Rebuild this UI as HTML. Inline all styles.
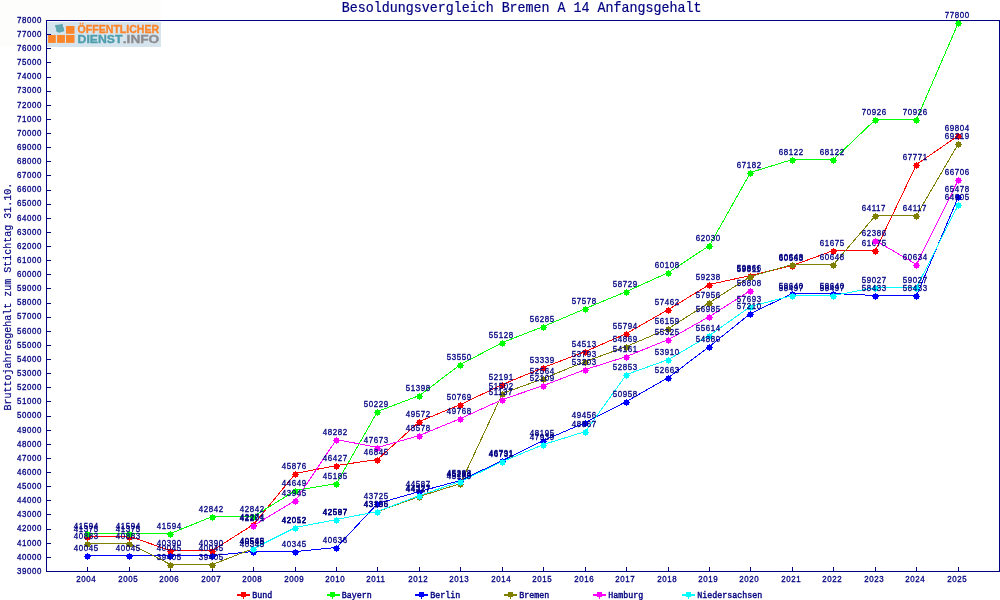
<!DOCTYPE html>
<html lang="de"><head><meta charset="utf-8"><title>Besoldungsvergleich Bremen A 14 Anfangsgehalt</title>
<style>html,body{margin:0;padding:0;background:#fff;overflow:hidden}svg{display:block}text{font-family:"Liberation Mono","DejaVu Sans Mono",monospace;fill:#000080}.sm text{stroke:#000080;stroke-width:.32px;letter-spacing:.68px}.lt text{stroke:#000080;stroke-width:.4px}.tt{stroke:#000080;stroke-width:.2px}.lg text,.sm text{font-family:"Liberation Sans","DejaVu Sans",sans-serif}</style></head><body>
<svg width="1000" height="600" viewBox="0 0 1000 600" style="will-change:transform">
<rect width="1000" height="600" fill="#ffffff"/>
<rect x="0" y="0" width="161" height="47" fill="#fdfdfb"/>
<g class="lg">
<rect x="47" y="22" width="114" height="25" fill="#d6e4ee"/>
<rect x="48.1" y="35" width="7.7" height="7.9" fill="#fd862a"/>
<rect x="57.1" y="35" width="7.8" height="7.9" fill="#fd862a"/>
<rect x="66" y="35" width="8.5" height="7.9" fill="#fd862a"/>
<rect x="66" y="26" width="8.5" height="7.8" fill="#fd862a"/>
<path d="M55.1,25.1 L60,24.4 L62.6,23.7 L63.1,26.5 L64,28.4 L64.2,31.2 L61.4,31.9 L59.6,32.7 L57,32.1 L56,30.5 L56.2,28.4 L55.3,27 Z" fill="#5fa8b2"/>
<text x="77.6" y="33.4" font-size="10.6" font-weight="bold" textLength="81.6" lengthAdjust="spacingAndGlyphs" style="fill:#fd862a;stroke:#fd862a;stroke-width:.35px">ÖFFENTLICHER</text>
<text x="77.6" y="43.3" font-size="10.6" font-weight="bold" textLength="44.8" lengthAdjust="spacingAndGlyphs" style="fill:#4f9fae;stroke:#4f9fae;stroke-width:.35px">DIENST</text>
<text x="122.8" y="43.3" font-size="10.6" font-weight="bold" textLength="36.4" lengthAdjust="spacingAndGlyphs" style="fill:#8e8e92;stroke:#8e8e92;stroke-width:.35px">.INFO</text>
</g>
<text class="tt" transform="translate(521.6,12.4) scale(0.926,1)" font-size="14.4" text-anchor="middle">Besoldungsvergleich Bremen A 14 Anfangsgehalt</text>
<text class="tt" transform="translate(10.7,296.7) rotate(-90) scale(0.926,1)" font-size="10.8" text-anchor="middle">Bruttojahresgehalt zum Stichtag 31.10.</text>
<g shape-rendering="crispEdges" stroke="#000080" stroke-width="1" fill="none">
<path d="M46.5,20 V572 M46,20.5 H1000 M999.5,20 V572 M46,571.5 H1000"/>
<path d="M47,571.5 H51 M47,557.5 H51 M47,543.5 H51 M47,529.5 H51 M47,514.5 H51 M47,500.5 H51 M47,486.5 H51 M47,472.5 H51 M47,458.5 H51 M47,444.5 H51 M47,430.5 H51 M47,416.5 H51 M47,401.5 H51 M47,387.5 H51 M47,373.5 H51 M47,359.5 H51 M47,345.5 H51 M47,331.5 H51 M47,317.5 H51 M47,303.5 H51 M47,288.5 H51 M47,274.5 H51 M47,260.5 H51 M47,246.5 H51 M47,232.5 H51 M47,218.5 H51 M47,204.5 H51 M47,190.5 H51 M47,175.5 H51 M47,161.5 H51 M47,147.5 H51 M47,133.5 H51 M47,119.5 H51 M47,105.5 H51 M47,91.5 H51 M47,77.5 H51 M47,62.5 H51 M47,48.5 H51 M47,34.5 H51 M47,20.5 H51 M87.5,567 V571 M129.5,567 V571 M170.5,567 V571 M212.5,567 V571 M253.5,567 V571 M295.5,567 V571 M336.5,567 V571 M377.5,567 V571 M419.5,567 V571 M460.5,567 V571 M502.5,567 V571 M543.5,567 V571 M585.5,567 V571 M626.5,567 V571 M668.5,567 V571 M709.5,567 V571 M750.5,567 V571 M792.5,567 V571 M833.5,567 V571 M875.5,567 V571 M916.5,567 V571 M958.5,567 V571"/>
</g>
<g class="sm" font-size="9.0">
<text transform="translate(17.00,573.80) scale(.88,1)">39000</text>
<text transform="translate(17.00,559.67) scale(.88,1)">40000</text>
<text transform="translate(17.00,545.54) scale(.88,1)">41000</text>
<text transform="translate(17.00,531.42) scale(.88,1)">42000</text>
<text transform="translate(17.00,517.29) scale(.88,1)">43000</text>
<text transform="translate(17.00,503.16) scale(.88,1)">44000</text>
<text transform="translate(17.00,489.03) scale(.88,1)">45000</text>
<text transform="translate(17.00,474.90) scale(.88,1)">46000</text>
<text transform="translate(17.00,460.77) scale(.88,1)">47000</text>
<text transform="translate(17.00,446.65) scale(.88,1)">48000</text>
<text transform="translate(17.00,432.52) scale(.88,1)">49000</text>
<text transform="translate(17.00,418.39) scale(.88,1)">50000</text>
<text transform="translate(17.00,404.26) scale(.88,1)">51000</text>
<text transform="translate(17.00,390.13) scale(.88,1)">52000</text>
<text transform="translate(17.00,376.01) scale(.88,1)">53000</text>
<text transform="translate(17.00,361.88) scale(.88,1)">54000</text>
<text transform="translate(17.00,347.75) scale(.88,1)">55000</text>
<text transform="translate(17.00,333.62) scale(.88,1)">56000</text>
<text transform="translate(17.00,319.49) scale(.88,1)">57000</text>
<text transform="translate(17.00,305.36) scale(.88,1)">58000</text>
<text transform="translate(17.00,291.24) scale(.88,1)">59000</text>
<text transform="translate(17.00,277.11) scale(.88,1)">60000</text>
<text transform="translate(17.00,262.98) scale(.88,1)">61000</text>
<text transform="translate(17.00,248.85) scale(.88,1)">62000</text>
<text transform="translate(17.00,234.72) scale(.88,1)">63000</text>
<text transform="translate(17.00,220.59) scale(.88,1)">64000</text>
<text transform="translate(17.00,206.47) scale(.88,1)">65000</text>
<text transform="translate(17.00,192.34) scale(.88,1)">66000</text>
<text transform="translate(17.00,178.21) scale(.88,1)">67000</text>
<text transform="translate(17.00,164.08) scale(.88,1)">68000</text>
<text transform="translate(17.00,149.95) scale(.88,1)">69000</text>
<text transform="translate(17.00,135.83) scale(.88,1)">70000</text>
<text transform="translate(17.00,121.70) scale(.88,1)">71000</text>
<text transform="translate(17.00,107.57) scale(.88,1)">72000</text>
<text transform="translate(17.00,93.44) scale(.88,1)">73000</text>
<text transform="translate(17.00,79.31) scale(.88,1)">74000</text>
<text transform="translate(17.00,65.18) scale(.88,1)">75000</text>
<text transform="translate(17.00,51.06) scale(.88,1)">76000</text>
<text transform="translate(17.00,36.93) scale(.88,1)">77000</text>
<text transform="translate(17.00,22.80) scale(.88,1)">78000</text>
<text transform="translate(76.20,581.90) scale(.88,1)">2004</text>
<text transform="translate(118.20,581.90) scale(.88,1)">2005</text>
<text transform="translate(159.20,581.90) scale(.88,1)">2006</text>
<text transform="translate(201.20,581.90) scale(.88,1)">2007</text>
<text transform="translate(242.20,581.90) scale(.88,1)">2008</text>
<text transform="translate(284.20,581.90) scale(.88,1)">2009</text>
<text transform="translate(325.20,581.90) scale(.88,1)">2010</text>
<text transform="translate(366.20,581.90) scale(.88,1)">2011</text>
<text transform="translate(408.20,581.90) scale(.88,1)">2012</text>
<text transform="translate(449.20,581.90) scale(.88,1)">2013</text>
<text transform="translate(491.20,581.90) scale(.88,1)">2014</text>
<text transform="translate(532.20,581.90) scale(.88,1)">2015</text>
<text transform="translate(574.20,581.90) scale(.88,1)">2016</text>
<text transform="translate(615.20,581.90) scale(.88,1)">2017</text>
<text transform="translate(657.20,581.90) scale(.88,1)">2018</text>
<text transform="translate(698.20,581.90) scale(.88,1)">2019</text>
<text transform="translate(739.20,581.90) scale(.88,1)">2020</text>
<text transform="translate(781.20,581.90) scale(.88,1)">2021</text>
<text transform="translate(822.20,581.90) scale(.88,1)">2022</text>
<text transform="translate(864.20,581.90) scale(.88,1)">2023</text>
<text transform="translate(905.20,581.90) scale(.88,1)">2024</text>
<text transform="translate(947.20,581.90) scale(.88,1)">2025</text>
</g>
<g>
<polyline points="87.5,536.5 129.5,536.5 170.5,550.5 212.5,550.5 253.5,524.5 295.5,473.5 336.5,465.5 377.5,459.5 419.5,421.5 460.5,404.5 502.5,384.5 543.5,367.5 585.5,351.5 626.5,333.5 668.5,309.5 709.5,284.5 750.5,275.5 792.5,265.5 833.5,250.5 875.5,250.5 916.5,164.5 958.5,135.5" fill="none" stroke="#ff0000" stroke-width="1" shape-rendering="crispEdges"/>
<path d="M85,535h5v5h-5z M84,537h7v1h-7z M87,534h1v7h-1z" fill="#ff0000" shape-rendering="crispEdges"/>
<path d="M127,535h5v5h-5z M126,537h7v1h-7z M129,534h1v7h-1z" fill="#ff0000" shape-rendering="crispEdges"/>
<path d="M168,549h5v5h-5z M167,551h7v1h-7z M170,548h1v7h-1z" fill="#ff0000" shape-rendering="crispEdges"/>
<path d="M210,549h5v5h-5z M209,551h7v1h-7z M212,548h1v7h-1z" fill="#ff0000" shape-rendering="crispEdges"/>
<path d="M251,523h5v5h-5z M250,525h7v1h-7z M253,522h1v7h-1z" fill="#ff0000" shape-rendering="crispEdges"/>
<path d="M293,472h5v5h-5z M292,474h7v1h-7z M295,471h1v7h-1z" fill="#ff0000" shape-rendering="crispEdges"/>
<path d="M334,464h5v5h-5z M333,466h7v1h-7z M336,463h1v7h-1z" fill="#ff0000" shape-rendering="crispEdges"/>
<path d="M375,458h5v5h-5z M374,460h7v1h-7z M377,457h1v7h-1z" fill="#ff0000" shape-rendering="crispEdges"/>
<path d="M417,420h5v5h-5z M416,422h7v1h-7z M419,419h1v7h-1z" fill="#ff0000" shape-rendering="crispEdges"/>
<path d="M458,403h5v5h-5z M457,405h7v1h-7z M460,402h1v7h-1z" fill="#ff0000" shape-rendering="crispEdges"/>
<path d="M500,383h5v5h-5z M499,385h7v1h-7z M502,382h1v7h-1z" fill="#ff0000" shape-rendering="crispEdges"/>
<path d="M541,366h5v5h-5z M540,368h7v1h-7z M543,365h1v7h-1z" fill="#ff0000" shape-rendering="crispEdges"/>
<path d="M583,350h5v5h-5z M582,352h7v1h-7z M585,349h1v7h-1z" fill="#ff0000" shape-rendering="crispEdges"/>
<path d="M624,332h5v5h-5z M623,334h7v1h-7z M626,331h1v7h-1z" fill="#ff0000" shape-rendering="crispEdges"/>
<path d="M666,308h5v5h-5z M665,310h7v1h-7z M668,307h1v7h-1z" fill="#ff0000" shape-rendering="crispEdges"/>
<path d="M707,283h5v5h-5z M706,285h7v1h-7z M709,282h1v7h-1z" fill="#ff0000" shape-rendering="crispEdges"/>
<path d="M748,274h5v5h-5z M747,276h7v1h-7z M750,273h1v7h-1z" fill="#ff0000" shape-rendering="crispEdges"/>
<path d="M790,264h5v5h-5z M789,266h7v1h-7z M792,263h1v7h-1z" fill="#ff0000" shape-rendering="crispEdges"/>
<path d="M831,249h5v5h-5z M830,251h7v1h-7z M833,248h1v7h-1z" fill="#ff0000" shape-rendering="crispEdges"/>
<path d="M873,249h5v5h-5z M872,251h7v1h-7z M875,248h1v7h-1z" fill="#ff0000" shape-rendering="crispEdges"/>
<path d="M914,163h5v5h-5z M913,165h7v1h-7z M916,162h1v7h-1z" fill="#ff0000" shape-rendering="crispEdges"/>
<path d="M956,134h5v5h-5z M955,136h7v1h-7z M958,133h1v7h-1z" fill="#ff0000" shape-rendering="crispEdges"/>
</g>
<g>
<polyline points="87.5,533.5 129.5,533.5 170.5,533.5 212.5,516.5 253.5,516.5 295.5,490.5 336.5,483.5 377.5,411.5 419.5,395.5 460.5,364.5 502.5,342.5 543.5,326.5 585.5,308.5 626.5,291.5 668.5,272.5 709.5,245.5 750.5,172.5 792.5,159.5 833.5,159.5 875.5,119.5 916.5,119.5 958.5,22.5" fill="none" stroke="#00ff00" stroke-width="1" shape-rendering="crispEdges"/>
<path d="M85,532h5v5h-5z M84,534h7v1h-7z M87,531h1v7h-1z" fill="#00ff00" shape-rendering="crispEdges"/>
<path d="M127,532h5v5h-5z M126,534h7v1h-7z M129,531h1v7h-1z" fill="#00ff00" shape-rendering="crispEdges"/>
<path d="M168,532h5v5h-5z M167,534h7v1h-7z M170,531h1v7h-1z" fill="#00ff00" shape-rendering="crispEdges"/>
<path d="M210,515h5v5h-5z M209,517h7v1h-7z M212,514h1v7h-1z" fill="#00ff00" shape-rendering="crispEdges"/>
<path d="M251,515h5v5h-5z M250,517h7v1h-7z M253,514h1v7h-1z" fill="#00ff00" shape-rendering="crispEdges"/>
<path d="M293,489h5v5h-5z M292,491h7v1h-7z M295,488h1v7h-1z" fill="#00ff00" shape-rendering="crispEdges"/>
<path d="M334,482h5v5h-5z M333,484h7v1h-7z M336,481h1v7h-1z" fill="#00ff00" shape-rendering="crispEdges"/>
<path d="M375,410h5v5h-5z M374,412h7v1h-7z M377,409h1v7h-1z" fill="#00ff00" shape-rendering="crispEdges"/>
<path d="M417,394h5v5h-5z M416,396h7v1h-7z M419,393h1v7h-1z" fill="#00ff00" shape-rendering="crispEdges"/>
<path d="M458,363h5v5h-5z M457,365h7v1h-7z M460,362h1v7h-1z" fill="#00ff00" shape-rendering="crispEdges"/>
<path d="M500,341h5v5h-5z M499,343h7v1h-7z M502,340h1v7h-1z" fill="#00ff00" shape-rendering="crispEdges"/>
<path d="M541,325h5v5h-5z M540,327h7v1h-7z M543,324h1v7h-1z" fill="#00ff00" shape-rendering="crispEdges"/>
<path d="M583,307h5v5h-5z M582,309h7v1h-7z M585,306h1v7h-1z" fill="#00ff00" shape-rendering="crispEdges"/>
<path d="M624,290h5v5h-5z M623,292h7v1h-7z M626,289h1v7h-1z" fill="#00ff00" shape-rendering="crispEdges"/>
<path d="M666,271h5v5h-5z M665,273h7v1h-7z M668,270h1v7h-1z" fill="#00ff00" shape-rendering="crispEdges"/>
<path d="M707,244h5v5h-5z M706,246h7v1h-7z M709,243h1v7h-1z" fill="#00ff00" shape-rendering="crispEdges"/>
<path d="M748,171h5v5h-5z M747,173h7v1h-7z M750,170h1v7h-1z" fill="#00ff00" shape-rendering="crispEdges"/>
<path d="M790,158h5v5h-5z M789,160h7v1h-7z M792,157h1v7h-1z" fill="#00ff00" shape-rendering="crispEdges"/>
<path d="M831,158h5v5h-5z M830,160h7v1h-7z M833,157h1v7h-1z" fill="#00ff00" shape-rendering="crispEdges"/>
<path d="M873,118h5v5h-5z M872,120h7v1h-7z M875,117h1v7h-1z" fill="#00ff00" shape-rendering="crispEdges"/>
<path d="M914,118h5v5h-5z M913,120h7v1h-7z M916,117h1v7h-1z" fill="#00ff00" shape-rendering="crispEdges"/>
<path d="M956,21h5v5h-5z M955,23h7v1h-7z M958,20h1v7h-1z" fill="#00ff00" shape-rendering="crispEdges"/>
</g>
<g>
<polyline points="87.5,555.5 129.5,555.5 170.5,555.5 212.5,555.5 253.5,551.5 295.5,551.5 336.5,547.5 377.5,503.5 419.5,491.5 460.5,480.5 502.5,460.5 543.5,440.5 585.5,422.5 626.5,401.5 668.5,377.5 709.5,346.5 750.5,313.5 792.5,293.5 833.5,293.5 875.5,295.5 916.5,295.5 958.5,196.5" fill="none" stroke="#0000ff" stroke-width="1" shape-rendering="crispEdges"/>
<path d="M85,554h5v5h-5z M84,556h7v1h-7z M87,553h1v7h-1z" fill="#0000ff" shape-rendering="crispEdges"/>
<path d="M127,554h5v5h-5z M126,556h7v1h-7z M129,553h1v7h-1z" fill="#0000ff" shape-rendering="crispEdges"/>
<path d="M168,554h5v5h-5z M167,556h7v1h-7z M170,553h1v7h-1z" fill="#0000ff" shape-rendering="crispEdges"/>
<path d="M210,554h5v5h-5z M209,556h7v1h-7z M212,553h1v7h-1z" fill="#0000ff" shape-rendering="crispEdges"/>
<path d="M251,550h5v5h-5z M250,552h7v1h-7z M253,549h1v7h-1z" fill="#0000ff" shape-rendering="crispEdges"/>
<path d="M293,550h5v5h-5z M292,552h7v1h-7z M295,549h1v7h-1z" fill="#0000ff" shape-rendering="crispEdges"/>
<path d="M334,546h5v5h-5z M333,548h7v1h-7z M336,545h1v7h-1z" fill="#0000ff" shape-rendering="crispEdges"/>
<path d="M375,502h5v5h-5z M374,504h7v1h-7z M377,501h1v7h-1z" fill="#0000ff" shape-rendering="crispEdges"/>
<path d="M417,490h5v5h-5z M416,492h7v1h-7z M419,489h1v7h-1z" fill="#0000ff" shape-rendering="crispEdges"/>
<path d="M458,479h5v5h-5z M457,481h7v1h-7z M460,478h1v7h-1z" fill="#0000ff" shape-rendering="crispEdges"/>
<path d="M500,459h5v5h-5z M499,461h7v1h-7z M502,458h1v7h-1z" fill="#0000ff" shape-rendering="crispEdges"/>
<path d="M541,439h5v5h-5z M540,441h7v1h-7z M543,438h1v7h-1z" fill="#0000ff" shape-rendering="crispEdges"/>
<path d="M583,421h5v5h-5z M582,423h7v1h-7z M585,420h1v7h-1z" fill="#0000ff" shape-rendering="crispEdges"/>
<path d="M624,400h5v5h-5z M623,402h7v1h-7z M626,399h1v7h-1z" fill="#0000ff" shape-rendering="crispEdges"/>
<path d="M666,376h5v5h-5z M665,378h7v1h-7z M668,375h1v7h-1z" fill="#0000ff" shape-rendering="crispEdges"/>
<path d="M707,345h5v5h-5z M706,347h7v1h-7z M709,344h1v7h-1z" fill="#0000ff" shape-rendering="crispEdges"/>
<path d="M748,312h5v5h-5z M747,314h7v1h-7z M750,311h1v7h-1z" fill="#0000ff" shape-rendering="crispEdges"/>
<path d="M790,292h5v5h-5z M789,294h7v1h-7z M792,291h1v7h-1z" fill="#0000ff" shape-rendering="crispEdges"/>
<path d="M831,292h5v5h-5z M830,294h7v1h-7z M833,291h1v7h-1z" fill="#0000ff" shape-rendering="crispEdges"/>
<path d="M873,294h5v5h-5z M872,296h7v1h-7z M875,293h1v7h-1z" fill="#0000ff" shape-rendering="crispEdges"/>
<path d="M914,294h5v5h-5z M913,296h7v1h-7z M916,293h1v7h-1z" fill="#0000ff" shape-rendering="crispEdges"/>
<path d="M956,195h5v5h-5z M955,197h7v1h-7z M958,194h1v7h-1z" fill="#0000ff" shape-rendering="crispEdges"/>
</g>
<g>
<polyline points="87.5,543.5 129.5,543.5 170.5,564.5 212.5,564.5 253.5,548.5 295.5,527.5 336.5,519.5 377.5,511.5 419.5,496.5 460.5,483.5 502.5,393.5 543.5,378.5 585.5,361.5 626.5,346.5 668.5,328.5 709.5,302.5 750.5,276.5 792.5,264.5 833.5,264.5 875.5,215.5 916.5,215.5 958.5,143.5" fill="none" stroke="#808000" stroke-width="1" shape-rendering="crispEdges"/>
<path d="M85,542h5v5h-5z M84,544h7v1h-7z M87,541h1v7h-1z" fill="#808000" shape-rendering="crispEdges"/>
<path d="M127,542h5v5h-5z M126,544h7v1h-7z M129,541h1v7h-1z" fill="#808000" shape-rendering="crispEdges"/>
<path d="M168,563h5v5h-5z M167,565h7v1h-7z M170,562h1v7h-1z" fill="#808000" shape-rendering="crispEdges"/>
<path d="M210,563h5v5h-5z M209,565h7v1h-7z M212,562h1v7h-1z" fill="#808000" shape-rendering="crispEdges"/>
<path d="M251,547h5v5h-5z M250,549h7v1h-7z M253,546h1v7h-1z" fill="#808000" shape-rendering="crispEdges"/>
<path d="M293,526h5v5h-5z M292,528h7v1h-7z M295,525h1v7h-1z" fill="#808000" shape-rendering="crispEdges"/>
<path d="M334,518h5v5h-5z M333,520h7v1h-7z M336,517h1v7h-1z" fill="#808000" shape-rendering="crispEdges"/>
<path d="M375,510h5v5h-5z M374,512h7v1h-7z M377,509h1v7h-1z" fill="#808000" shape-rendering="crispEdges"/>
<path d="M417,495h5v5h-5z M416,497h7v1h-7z M419,494h1v7h-1z" fill="#808000" shape-rendering="crispEdges"/>
<path d="M458,482h5v5h-5z M457,484h7v1h-7z M460,481h1v7h-1z" fill="#808000" shape-rendering="crispEdges"/>
<path d="M500,392h5v5h-5z M499,394h7v1h-7z M502,391h1v7h-1z" fill="#808000" shape-rendering="crispEdges"/>
<path d="M541,377h5v5h-5z M540,379h7v1h-7z M543,376h1v7h-1z" fill="#808000" shape-rendering="crispEdges"/>
<path d="M583,360h5v5h-5z M582,362h7v1h-7z M585,359h1v7h-1z" fill="#808000" shape-rendering="crispEdges"/>
<path d="M624,345h5v5h-5z M623,347h7v1h-7z M626,344h1v7h-1z" fill="#808000" shape-rendering="crispEdges"/>
<path d="M666,327h5v5h-5z M665,329h7v1h-7z M668,326h1v7h-1z" fill="#808000" shape-rendering="crispEdges"/>
<path d="M707,301h5v5h-5z M706,303h7v1h-7z M709,300h1v7h-1z" fill="#808000" shape-rendering="crispEdges"/>
<path d="M748,275h5v5h-5z M747,277h7v1h-7z M750,274h1v7h-1z" fill="#808000" shape-rendering="crispEdges"/>
<path d="M790,263h5v5h-5z M789,265h7v1h-7z M792,262h1v7h-1z" fill="#808000" shape-rendering="crispEdges"/>
<path d="M831,263h5v5h-5z M830,265h7v1h-7z M833,262h1v7h-1z" fill="#808000" shape-rendering="crispEdges"/>
<path d="M873,214h5v5h-5z M872,216h7v1h-7z M875,213h1v7h-1z" fill="#808000" shape-rendering="crispEdges"/>
<path d="M914,214h5v5h-5z M913,216h7v1h-7z M916,213h1v7h-1z" fill="#808000" shape-rendering="crispEdges"/>
<path d="M956,142h5v5h-5z M955,144h7v1h-7z M958,141h1v7h-1z" fill="#808000" shape-rendering="crispEdges"/>
</g>
<g>
<polyline points="253.5,525.5 295.5,500.5 336.5,439.5 377.5,447.5 419.5,435.5 460.5,418.5 502.5,399.5 543.5,385.5 585.5,369.5 626.5,356.5 668.5,339.5 709.5,316.5 750.5,290.5" fill="none" stroke="#ff00ff" stroke-width="1" shape-rendering="crispEdges"/>
<polyline points="875.5,240.5 916.5,264.5 958.5,179.5" fill="none" stroke="#ff00ff" stroke-width="1" shape-rendering="crispEdges"/>
<path d="M251,524h5v5h-5z M250,526h7v1h-7z M253,523h1v7h-1z" fill="#ff00ff" shape-rendering="crispEdges"/>
<path d="M293,499h5v5h-5z M292,501h7v1h-7z M295,498h1v7h-1z" fill="#ff00ff" shape-rendering="crispEdges"/>
<path d="M334,438h5v5h-5z M333,440h7v1h-7z M336,437h1v7h-1z" fill="#ff00ff" shape-rendering="crispEdges"/>
<path d="M375,446h5v5h-5z M374,448h7v1h-7z M377,445h1v7h-1z" fill="#ff00ff" shape-rendering="crispEdges"/>
<path d="M417,434h5v5h-5z M416,436h7v1h-7z M419,433h1v7h-1z" fill="#ff00ff" shape-rendering="crispEdges"/>
<path d="M458,417h5v5h-5z M457,419h7v1h-7z M460,416h1v7h-1z" fill="#ff00ff" shape-rendering="crispEdges"/>
<path d="M500,398h5v5h-5z M499,400h7v1h-7z M502,397h1v7h-1z" fill="#ff00ff" shape-rendering="crispEdges"/>
<path d="M541,384h5v5h-5z M540,386h7v1h-7z M543,383h1v7h-1z" fill="#ff00ff" shape-rendering="crispEdges"/>
<path d="M583,368h5v5h-5z M582,370h7v1h-7z M585,367h1v7h-1z" fill="#ff00ff" shape-rendering="crispEdges"/>
<path d="M624,355h5v5h-5z M623,357h7v1h-7z M626,354h1v7h-1z" fill="#ff00ff" shape-rendering="crispEdges"/>
<path d="M666,338h5v5h-5z M665,340h7v1h-7z M668,337h1v7h-1z" fill="#ff00ff" shape-rendering="crispEdges"/>
<path d="M707,315h5v5h-5z M706,317h7v1h-7z M709,314h1v7h-1z" fill="#ff00ff" shape-rendering="crispEdges"/>
<path d="M748,289h5v5h-5z M747,291h7v1h-7z M750,288h1v7h-1z" fill="#ff00ff" shape-rendering="crispEdges"/>
<path d="M873,239h5v5h-5z M872,241h7v1h-7z M875,238h1v7h-1z" fill="#ff00ff" shape-rendering="crispEdges"/>
<path d="M914,263h5v5h-5z M913,265h7v1h-7z M916,262h1v7h-1z" fill="#ff00ff" shape-rendering="crispEdges"/>
<path d="M956,178h5v5h-5z M955,180h7v1h-7z M958,177h1v7h-1z" fill="#ff00ff" shape-rendering="crispEdges"/>
</g>
<g>
<polyline points="253.5,548.5 295.5,527.5 336.5,519.5 377.5,511.5 419.5,495.5 460.5,481.5 502.5,461.5 543.5,444.5 585.5,431.5 626.5,374.5 668.5,359.5 709.5,335.5 750.5,306.5 792.5,295.5 833.5,295.5 875.5,287.5 916.5,287.5 958.5,204.5" fill="none" stroke="#00ffff" stroke-width="1" shape-rendering="crispEdges"/>
<path d="M251,547h5v5h-5z M250,549h7v1h-7z M253,546h1v7h-1z" fill="#00ffff" shape-rendering="crispEdges"/>
<path d="M293,526h5v5h-5z M292,528h7v1h-7z M295,525h1v7h-1z" fill="#00ffff" shape-rendering="crispEdges"/>
<path d="M334,518h5v5h-5z M333,520h7v1h-7z M336,517h1v7h-1z" fill="#00ffff" shape-rendering="crispEdges"/>
<path d="M375,510h5v5h-5z M374,512h7v1h-7z M377,509h1v7h-1z" fill="#00ffff" shape-rendering="crispEdges"/>
<path d="M417,494h5v5h-5z M416,496h7v1h-7z M419,493h1v7h-1z" fill="#00ffff" shape-rendering="crispEdges"/>
<path d="M458,480h5v5h-5z M457,482h7v1h-7z M460,479h1v7h-1z" fill="#00ffff" shape-rendering="crispEdges"/>
<path d="M500,460h5v5h-5z M499,462h7v1h-7z M502,459h1v7h-1z" fill="#00ffff" shape-rendering="crispEdges"/>
<path d="M541,443h5v5h-5z M540,445h7v1h-7z M543,442h1v7h-1z" fill="#00ffff" shape-rendering="crispEdges"/>
<path d="M583,430h5v5h-5z M582,432h7v1h-7z M585,429h1v7h-1z" fill="#00ffff" shape-rendering="crispEdges"/>
<path d="M624,373h5v5h-5z M623,375h7v1h-7z M626,372h1v7h-1z" fill="#00ffff" shape-rendering="crispEdges"/>
<path d="M666,358h5v5h-5z M665,360h7v1h-7z M668,357h1v7h-1z" fill="#00ffff" shape-rendering="crispEdges"/>
<path d="M707,334h5v5h-5z M706,336h7v1h-7z M709,333h1v7h-1z" fill="#00ffff" shape-rendering="crispEdges"/>
<path d="M748,305h5v5h-5z M747,307h7v1h-7z M750,304h1v7h-1z" fill="#00ffff" shape-rendering="crispEdges"/>
<path d="M790,294h5v5h-5z M789,296h7v1h-7z M792,293h1v7h-1z" fill="#00ffff" shape-rendering="crispEdges"/>
<path d="M831,294h5v5h-5z M830,296h7v1h-7z M833,293h1v7h-1z" fill="#00ffff" shape-rendering="crispEdges"/>
<path d="M873,286h5v5h-5z M872,288h7v1h-7z M875,285h1v7h-1z" fill="#00ffff" shape-rendering="crispEdges"/>
<path d="M914,286h5v5h-5z M913,288h7v1h-7z M916,285h1v7h-1z" fill="#00ffff" shape-rendering="crispEdges"/>
<path d="M956,203h5v5h-5z M955,205h7v1h-7z M958,202h1v7h-1z" fill="#00ffff" shape-rendering="crispEdges"/>
</g>
<g class="sm" font-size="9.0">
<text transform="translate(73.70,531.80) scale(.88,1)">41375</text>
<text transform="translate(115.70,531.80) scale(.88,1)">41375</text>
<text transform="translate(156.70,545.80) scale(.88,1)">40390</text>
<text transform="translate(198.70,545.80) scale(.88,1)">40390</text>
<text transform="translate(239.70,519.80) scale(.88,1)">42274</text>
<text transform="translate(281.70,468.80) scale(.88,1)">45876</text>
<text transform="translate(322.70,460.80) scale(.88,1)">46427</text>
<text transform="translate(363.70,454.80) scale(.88,1)">46845</text>
<text transform="translate(405.70,416.80) scale(.88,1)">49572</text>
<text transform="translate(446.70,399.80) scale(.88,1)">50769</text>
<text transform="translate(488.70,379.80) scale(.88,1)">52191</text>
<text transform="translate(529.70,362.80) scale(.88,1)">53339</text>
<text transform="translate(571.70,346.80) scale(.88,1)">54513</text>
<text transform="translate(612.70,328.80) scale(.88,1)">55794</text>
<text transform="translate(654.70,304.80) scale(.88,1)">57462</text>
<text transform="translate(695.70,279.80) scale(.88,1)">59238</text>
<text transform="translate(736.70,270.80) scale(.88,1)">59866</text>
<text transform="translate(778.70,260.80) scale(.88,1)">60563</text>
<text transform="translate(819.70,245.80) scale(.88,1)">61675</text>
<text transform="translate(861.70,245.80) scale(.88,1)">61675</text>
<text transform="translate(902.70,159.80) scale(.88,1)">67771</text>
<text transform="translate(944.70,130.80) scale(.88,1)">69804</text>
<text transform="translate(73.70,528.80) scale(.88,1)">41594</text>
<text transform="translate(115.70,528.80) scale(.88,1)">41594</text>
<text transform="translate(156.70,528.80) scale(.88,1)">41594</text>
<text transform="translate(198.70,511.80) scale(.88,1)">42842</text>
<text transform="translate(239.70,511.80) scale(.88,1)">42842</text>
<text transform="translate(281.70,485.80) scale(.88,1)">44649</text>
<text transform="translate(322.70,478.80) scale(.88,1)">45185</text>
<text transform="translate(363.70,406.80) scale(.88,1)">50229</text>
<text transform="translate(405.70,390.80) scale(.88,1)">51398</text>
<text transform="translate(446.70,359.80) scale(.88,1)">53550</text>
<text transform="translate(488.70,337.80) scale(.88,1)">55128</text>
<text transform="translate(529.70,321.80) scale(.88,1)">56285</text>
<text transform="translate(571.70,303.80) scale(.88,1)">57578</text>
<text transform="translate(612.70,286.80) scale(.88,1)">58729</text>
<text transform="translate(654.70,267.80) scale(.88,1)">60108</text>
<text transform="translate(695.70,240.80) scale(.88,1)">62030</text>
<text transform="translate(736.70,167.80) scale(.88,1)">67182</text>
<text transform="translate(778.70,154.80) scale(.88,1)">68122</text>
<text transform="translate(819.70,154.80) scale(.88,1)">68122</text>
<text transform="translate(861.70,114.80) scale(.88,1)">70926</text>
<text transform="translate(902.70,114.80) scale(.88,1)">70926</text>
<text transform="translate(944.70,17.80) scale(.88,1)">77800</text>
<text transform="translate(73.70,550.80) scale(.88,1)">40045</text>
<text transform="translate(115.70,550.80) scale(.88,1)">40045</text>
<text transform="translate(156.70,550.80) scale(.88,1)">40045</text>
<text transform="translate(198.70,550.80) scale(.88,1)">40045</text>
<text transform="translate(239.70,546.80) scale(.88,1)">40345</text>
<text transform="translate(281.70,546.80) scale(.88,1)">40345</text>
<text transform="translate(322.70,542.80) scale(.88,1)">40636</text>
<text transform="translate(363.70,498.80) scale(.88,1)">43725</text>
<text transform="translate(405.70,486.80) scale(.88,1)">44587</text>
<text transform="translate(446.70,475.80) scale(.88,1)">45388</text>
<text transform="translate(488.70,455.80) scale(.88,1)">46791</text>
<text transform="translate(529.70,435.80) scale(.88,1)">48195</text>
<text transform="translate(571.70,417.80) scale(.88,1)">49456</text>
<text transform="translate(612.70,396.80) scale(.88,1)">50958</text>
<text transform="translate(654.70,372.80) scale(.88,1)">52663</text>
<text transform="translate(695.70,341.80) scale(.88,1)">54880</text>
<text transform="translate(736.70,308.80) scale(.88,1)">57210</text>
<text transform="translate(778.70,288.80) scale(.88,1)">58640</text>
<text transform="translate(819.70,288.80) scale(.88,1)">58640</text>
<text transform="translate(861.70,290.80) scale(.88,1)">58433</text>
<text transform="translate(902.70,290.80) scale(.88,1)">58433</text>
<text transform="translate(944.70,191.80) scale(.88,1)">65478</text>
<text transform="translate(73.70,538.80) scale(.88,1)">40883</text>
<text transform="translate(115.70,538.80) scale(.88,1)">40883</text>
<text transform="translate(156.70,559.80) scale(.88,1)">39405</text>
<text transform="translate(198.70,559.80) scale(.88,1)">39405</text>
<text transform="translate(239.70,543.80) scale(.88,1)">40568</text>
<text transform="translate(281.70,522.80) scale(.88,1)">42012</text>
<text transform="translate(322.70,514.80) scale(.88,1)">42597</text>
<text transform="translate(363.70,506.80) scale(.88,1)">43155</text>
<text transform="translate(405.70,491.80) scale(.88,1)">44227</text>
<text transform="translate(446.70,478.80) scale(.88,1)">45168</text>
<text transform="translate(488.70,388.80) scale(.88,1)">51502</text>
<text transform="translate(529.70,373.80) scale(.88,1)">52564</text>
<text transform="translate(571.70,356.80) scale(.88,1)">53793</text>
<text transform="translate(612.70,341.80) scale(.88,1)">54869</text>
<text transform="translate(654.70,323.80) scale(.88,1)">56159</text>
<text transform="translate(695.70,297.80) scale(.88,1)">57956</text>
<text transform="translate(736.70,271.80) scale(.88,1)">59811</text>
<text transform="translate(778.70,259.80) scale(.88,1)">60648</text>
<text transform="translate(819.70,259.80) scale(.88,1)">60648</text>
<text transform="translate(861.70,210.80) scale(.88,1)">64117</text>
<text transform="translate(902.70,210.80) scale(.88,1)">64117</text>
<text transform="translate(944.70,138.80) scale(.88,1)">69219</text>
<text transform="translate(239.70,520.80) scale(.88,1)">42201</text>
<text transform="translate(281.70,495.80) scale(.88,1)">43945</text>
<text transform="translate(322.70,434.80) scale(.88,1)">48282</text>
<text transform="translate(363.70,442.80) scale(.88,1)">47673</text>
<text transform="translate(405.70,430.80) scale(.88,1)">48578</text>
<text transform="translate(446.70,413.80) scale(.88,1)">49768</text>
<text transform="translate(488.70,394.80) scale(.88,1)">51137</text>
<text transform="translate(529.70,380.80) scale(.88,1)">52109</text>
<text transform="translate(571.70,364.80) scale(.88,1)">53203</text>
<text transform="translate(612.70,351.80) scale(.88,1)">54161</text>
<text transform="translate(654.70,334.80) scale(.88,1)">55325</text>
<text transform="translate(695.70,311.80) scale(.88,1)">56985</text>
<text transform="translate(736.70,285.80) scale(.88,1)">58808</text>
<text transform="translate(861.70,235.80) scale(.88,1)">62386</text>
<text transform="translate(902.70,259.80) scale(.88,1)">60634</text>
<text transform="translate(944.70,174.80) scale(.88,1)">66706</text>
<text transform="translate(239.70,543.80) scale(.88,1)">40545</text>
<text transform="translate(281.70,522.80) scale(.88,1)">42052</text>
<text transform="translate(322.70,514.80) scale(.88,1)">42587</text>
<text transform="translate(363.70,506.80) scale(.88,1)">43196</text>
<text transform="translate(405.70,490.80) scale(.88,1)">44327</text>
<text transform="translate(446.70,476.80) scale(.88,1)">45294</text>
<text transform="translate(488.70,456.80) scale(.88,1)">46731</text>
<text transform="translate(529.70,439.80) scale(.88,1)">47939</text>
<text transform="translate(571.70,426.80) scale(.88,1)">48867</text>
<text transform="translate(612.70,369.80) scale(.88,1)">52853</text>
<text transform="translate(654.70,354.80) scale(.88,1)">53910</text>
<text transform="translate(695.70,330.80) scale(.88,1)">55614</text>
<text transform="translate(736.70,301.80) scale(.88,1)">57693</text>
<text transform="translate(778.70,290.80) scale(.88,1)">58497</text>
<text transform="translate(819.70,290.80) scale(.88,1)">58497</text>
<text transform="translate(861.70,282.80) scale(.88,1)">59027</text>
<text transform="translate(902.70,282.80) scale(.88,1)">59027</text>
<text transform="translate(944.70,199.80) scale(.88,1)">64905</text>
</g>
<path d="M873,239h5v5h-5z M872,241h7v1h-7z M875,238h1v7h-1z" fill="#ff00ff" shape-rendering="crispEdges"/>
<g class="lt" font-size="9.2">
<rect x="237" y="594" width="13" height="2" fill="#ff0000" shape-rendering="crispEdges"/>
<path d="M241,592h5v5h-5z M240,594h7v1h-7z M243,592h1v7h-1z" fill="#ff0000" shape-rendering="crispEdges"/>
<text transform="translate(252.3,598) scale(0.906,1)">Bund</text>
<rect x="326.5" y="594" width="13" height="2" fill="#00ff00" shape-rendering="crispEdges"/>
<path d="M330,592h5v5h-5z M330,594h7v1h-7z M332,592h1v7h-1z" fill="#00ff00" shape-rendering="crispEdges"/>
<text transform="translate(341.8,598) scale(0.906,1)">Bayern</text>
<rect x="415" y="594" width="13" height="2" fill="#0000ff" shape-rendering="crispEdges"/>
<path d="M419,592h5v5h-5z M418,594h7v1h-7z M421,592h1v7h-1z" fill="#0000ff" shape-rendering="crispEdges"/>
<text transform="translate(430.3,598) scale(0.906,1)">Berlin</text>
<rect x="504" y="594" width="13" height="2" fill="#808000" shape-rendering="crispEdges"/>
<path d="M508,592h5v5h-5z M507,594h7v1h-7z M510,592h1v7h-1z" fill="#808000" shape-rendering="crispEdges"/>
<text transform="translate(519.3,598) scale(0.906,1)">Bremen</text>
<rect x="593" y="594" width="13" height="2" fill="#ff00ff" shape-rendering="crispEdges"/>
<path d="M597,592h5v5h-5z M596,594h7v1h-7z M599,592h1v7h-1z" fill="#ff00ff" shape-rendering="crispEdges"/>
<text transform="translate(608.3,598) scale(0.906,1)">Hamburg</text>
<rect x="682" y="594" width="13" height="2" fill="#00ffff" shape-rendering="crispEdges"/>
<path d="M686,592h5v5h-5z M685,594h7v1h-7z M688,592h1v7h-1z" fill="#00ffff" shape-rendering="crispEdges"/>
<text transform="translate(697.3,598) scale(0.906,1)">Niedersachsen</text>
</g>
</svg></body></html>
